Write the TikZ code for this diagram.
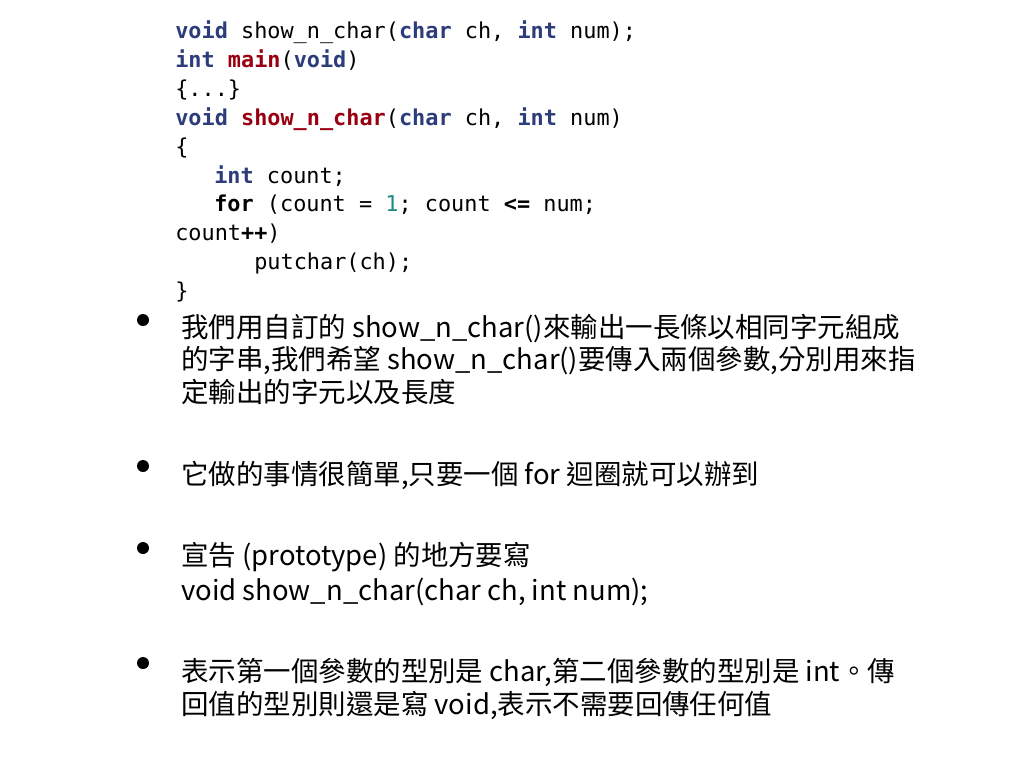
\documentclass[tikz,border=0pt]{standalone}
\usepackage{fontspec}
\setmonofont{DejaVu Sans Mono}
\newfontfamily\cjkfont{Noto Sans CJK TC}
\definecolor{kwblue}{RGB}{45,60,122}
\definecolor{fnred}{RGB}{152,0,18}
\definecolor{numteal}{RGB}{28,140,130}
\newcommand\kwd[1]{\textcolor{kwblue}{\textbf{#1}}}
\newcommand\fnc[1]{\textcolor{fnred}{\textbf{#1}}}
\newcommand\numl[1]{\textcolor{numteal}{#1}}
\begin{document}
\begin{tikzpicture}[x=0.75pt,y=-0.75pt,
    code/.style={anchor=base west,inner sep=0pt,font=\ttfamily\fontsize{16.4}{20}\selectfont},
    body/.style={anchor=base west,inner sep=0pt,font=\cjkfont\fontsize{20.6}{24}\selectfont},
    dot/.style={circle,fill=black,inner sep=0pt,minimum size=9pt}]
  \useasboundingbox (0,0) rectangle (1024,768);
  % code
  \path
    (175,38) node[code] (c1) {\kwd{void} show\_n\_char(\kwd{char} ch, \kwd{int} num);}
    (175,67) node[code] (c2) {\kwd{int} \fnc{main}(\kwd{void})}
    (175,96) node[code] (c3) {\{...\}}
    (175,125) node[code] (c4) {\kwd{void} \fnc{show\_n\_char}(\kwd{char} ch, \kwd{int} num)}
    (175,154) node[code] (c5) {\{}
    (214,183) node[code] (c6) {\kwd{int} count;}
    (214,211) node[code] (c7) {\textbf{for} (count = \numl{1}; count \textbf{<=} num;}
    (175,240) node[code] (c8) {count\textbf{++})}
    (254,269) node[code] (c9) {putchar(ch);}
    (175,298) node[code] (c10) {\}};
  % bullets
  \path
    (143,320) node[dot] (b1) {}
    (143,466) node[dot] (b2) {}
    (143,548) node[dot] (b3) {}
    (143,663) node[dot] (b4) {};
  \path
    (181,337) node[body] (t1a) {我們用自訂的 show\_n\_char()來輸出一長條以相同字元組成}
    (181,369.5) node[body] (t1b) {的字串,我們希望 show\_n\_char()要傳入兩個參數,分別用來指}
    (181,402) node[body] (t1c) {定輸出的字元以及長度}
    (181,484) node[body] (t2) {它做的事情很簡單,只要一個 for 迴圈就可以辦到}
    (181,565) node[body] (t3a) {宣告 (prototype) 的地方要寫}
    (181,600) node[body] (t3b) {void show\_n\_char(char ch, int num);}
    (181,681) node[body] (t4a) {表示第一個參數的型別是 char,第二個參數的型別是 int。傳}
    (181,714) node[body] (t4b) {回值的型別則還是寫 void,表示不需要回傳任何值};
\end{tikzpicture}
\end{document}
